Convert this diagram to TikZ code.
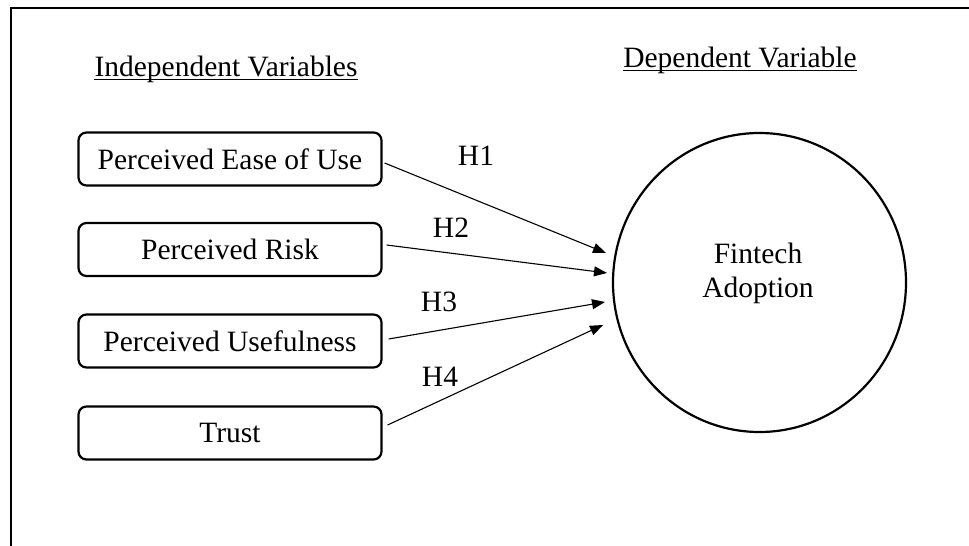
\documentclass[tikz,border=0pt]{standalone}
\usepackage{fontspec}
\setmainfont{Liberation Serif}
\usetikzlibrary{arrows.meta,shapes.geometric}
\begin{document}
\begin{tikzpicture}[x=1pt,y=-1pt,
  txt/.style={font=\fontsize{29.5}{34}\selectfont,inner sep=0pt},
  hdr/.style={txt,anchor=base},
  uline/.style={line width=1.3pt},
  varbox/.style={txt,draw,line width=2.2pt,rounded corners=8pt,
    minimum width=303pt,minimum height=53pt},
  target/.style={draw,ellipse,line width=2.2pt,minimum width=293pt,minimum height=299pt,inner sep=0pt},
  link/.style={line width=1.1pt,-{Triangle[length=13pt,width=10pt]}},
  hyp/.style={txt}]
\useasboundingbox (0,0) rectangle (969,546);
% outer frame (open to the right and bottom)
\draw[line width=2.2pt] (975,8) -- (11,8) -- (11,552);

% column headings
\node[hdr] (indep) at (226,76) {Independent Variables};
\draw[uline] ([yshift=-3.5pt]indep.base west) -- ([yshift=-3.5pt]indep.base east);
\node[hdr] (dep) at (740,67) {Dependent Variable};
\draw[uline] ([yshift=-3.5pt]dep.base west) -- ([yshift=-3.5pt]dep.base east);

% independent variables
\node[varbox] (peou) at (230,159) {Perceived Ease of Use};
\node[varbox] (risk) at (230,249.5) {Perceived Risk};
\node[varbox] (use)  at (230,341) {Perceived Usefulness};
\node[varbox] (trust) at (230,433) {Trust};

% dependent variable
\node[target] (fa) at (759.5,282.5) {};
\node[txt,align=center] (fatext) at (758,273.5) {Fintech\\Adoption};

% arrow tips just left of the circle
\coordinate (t1) at (606,253);
\coordinate (t2) at (607,273);
\coordinate (t3) at (605,302);
\coordinate (t4) at (603,325);

\draw[link] ([xshift=2pt,yshift=-4pt]peou.east) -- (t1);
\draw[link] ([xshift=4pt,yshift=4.5pt]risk.east) -- (t2);
\draw[link] ([xshift=6pt,yshift=2pt]use.east) -- (t3);
\draw[link] ([xshift=5pt,yshift=8pt]trust.east) -- (t4);

% hypothesis labels
\node[hyp] (h1) at (476,156) {H1};
\node[hyp] (h2) at (451,228) {H2};
\node[hyp] (h3) at (439,302) {H3};
\node[hyp] (h4) at (440,377) {H4};
\end{tikzpicture}
\end{document}
